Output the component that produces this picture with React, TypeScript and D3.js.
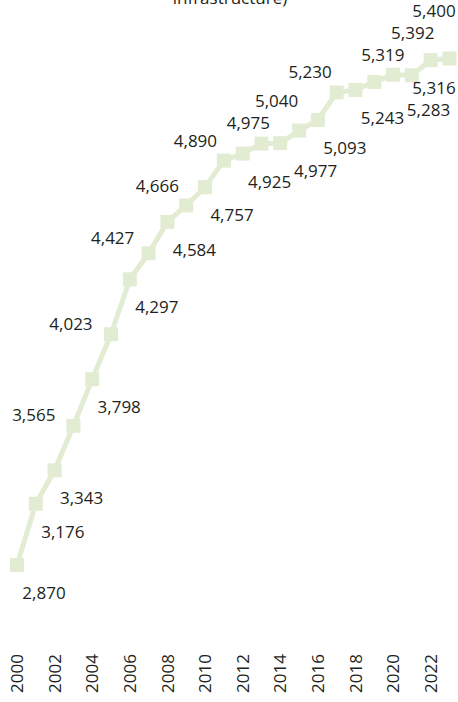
import React from 'react';
import * as d3 from 'd3';

const years = [2000, 2001, 2002, 2003, 2004, 2005, 2006, 2007, 2008, 2009, 2010, 2011, 2012, 2013, 2014, 2015, 2016, 2017, 2018, 2019, 2020, 2021, 2022, 2023];
const values = [2870, 3176, 3343, 3565, 3798, 4023, 4297, 4427, 4584, 4666, 4757, 4890, 4925, 4975, 4977, 5040, 5093, 5230, 5243, 5283, 5319, 5316, 5392, 5400];
const labelSides = ['below', 'below', 'below', 'above', 'below', 'above', 'below', 'above', 'below', 'above', 'below', 'above', 'below', 'above', 'below', 'above', 'below', 'above', 'below', 'below', 'above', 'below', 'above', 'above'];
const tickYears = [2000, 2002, 2004, 2006, 2008, 2010, 2012, 2014, 2016, 2018, 2020, 2022];
const titleTail = 'infrastructure)';

const W = 458;
const H = 702;
const LINE_COLOR = '#e2ecd2';
const TEXT_COLOR = '#231f20';
const FONT = "'Open Sans', 'Noto Sans', sans-serif";

export default function App() {
  const x = d3.scaleLinear().domain([2000, 2023]).range([17, 449.5]);
  const y = d3.scaleLinear().domain([d3.min(values) as number, d3.max(values) as number]).range([565, 58.5]);
  const pts: [number, number][] = years.map((yr, i) => [x(yr), y(values[i])]);
  const path = d3.line()(pts) as string;
  const fmt = d3.format(',');

  const hw = 22;
  const gapX = 2 * hw + 2;
  const gapY = 22;
  const placed: { cx: number; cy: number; text: string }[] = [];
  const clampX = (v: number) => Math.max(hw + 2, Math.min(W - hw - 2, v));
  const hits = (cx: number, cy: number) =>
    placed.find((o) => Math.abs(o.cx - cx) < gapX && Math.abs(o.cy - cy) < gapY);

  pts.forEach((p, i) => {
    const prev = pts[Math.max(i - 1, 0)];
    const next = pts[Math.min(i + 1, pts.length - 1)];
    const above = labelSides[i] === 'above';
    let cx: number;
    let cy: number;
    if (above) {
      const dx = next[0] - prev[0];
      const dy = next[1] - prev[1];
      const len = Math.hypot(dx, dy);
      const nx = dy / len;
      const ny = -dx / len;
      const d = 13 + 22 * Math.abs(nx) + 8 * Math.abs(ny);
      cx = p[0] + nx * d - 6;
      cy = p[1] + ny * d * 0.8;
    } else {
      cx = p[0] + 27;
      cy = p[1] + 28;
    }
    cx = clampX(cx);
    let guard = 0;
    let o = hits(cx, cy);
    while (o && guard < 30) {
      guard++;
      if (!above) {
        const nxPos = clampX(o.cx + gapX);
        if (Math.abs(nxPos - o.cx) >= gapX) {
          cx = nxPos;
        } else {
          cy = o.cy - gapY;
        }
      } else {
        cy = o.cy - gapY;
      }
      o = hits(cx, cy);
    }
    placed.push({ cx, cy, text: fmt(values[i]) });
  });

  return (
    <svg
      width={W}
      height={H}
      style={{ position: 'absolute', left: 0, top: 0, background: '#ffffff' }}
      fontFamily={FONT}
    >
      <text x={230} y={4} textAnchor="middle" fontSize={17} fill={TEXT_COLOR}>
        {titleTail}
      </text>
      <path d={path} fill="none" stroke={LINE_COLOR} strokeWidth={5} />
      {pts.map((p, i) => (
        <rect key={'m' + i} x={p[0] - 7} y={p[1] - 7} width={14} height={14} fill={LINE_COLOR} />
      ))}
      {placed.map((l, i) => (
        <text key={'l' + i} x={l.cx} y={l.cy} dy="0.36em" textAnchor="middle" fontSize={17} fill={TEXT_COLOR}>
          {l.text}
        </text>
      ))}
      {tickYears.map((yr) => (
        <text
          key={'t' + yr}
          transform={`translate(${x(yr)},654) rotate(-90)`}
          dy="0.36em"
          textAnchor="end"
          fontSize={17}
          fill={TEXT_COLOR}
        >
          {yr}
        </text>
      ))}
    </svg>
  );
}
